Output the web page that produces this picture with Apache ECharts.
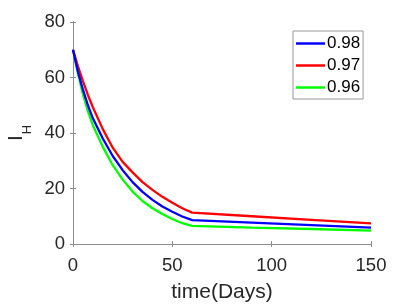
<!DOCTYPE html>
<html><head><meta charset="utf-8">
<script src="https://cdn.jsdelivr.net/npm/echarts@6/dist/echarts.min.js"></script>
<style>html,body{margin:0;padding:0;background:#fff}#c{width:396px;height:304px}</style>
</head><body><div id="c"></div>
<script>
const days = [0,2.5,5,7.5,10,15,20,25,30,35,40,45,50,55,60,90,120,150];
const s098 = [70,62.1,55.6,50.0,45.3,38.0,31.7,26.6,22.3,18.8,15.9,13.5,11.6,9.9,8.6,7.7,6.8,5.9];
const s097 = [70,64.0,58.7,53.7,49.3,41.4,34.7,29.6,25.8,22.3,19.5,17.0,14.9,12.9,11.3,10.0,8.7,7.4];
const s096 = [70,61.3,54.0,47.9,42.8,35.0,28.4,23.2,18.9,15.5,12.9,10.8,9.0,7.5,6.5,5.9,5.4,4.8];
const seriesNames = ['0.98','0.97','0.96'];
const colors = ['#0000ff','#ff0000','#00ff00'];

const chart = echarts.init(document.getElementById('c'), null, {renderer:'canvas'});
const axisColor = '#8c8c8c';
const txt = '#262626';
const font = 'Liberation Sans, Arial, Helvetica, sans-serif';
function mk(vals){ return days.map((d,i)=>[d, vals[i]]); }
const data = [s098, s097, s096];
chart.setOption({
  animation:false,
  grid:{left:73, right:25, top:22, bottom:60, containLabel:false, outerBoundsMode:'none'},
  legend:{
    left:293, top:31, orient:'vertical',
    data: seriesNames.map(n=>({name:n, icon:'rect'})),
    backgroundColor:'#fff', borderColor:'#999', borderWidth:1,
    padding:[4,3,3,3], itemGap:5, itemWidth:29, itemHeight:2.5,
    textStyle:{fontFamily:font, fontSize:17, color:'#000', padding:[0,0,0,-3]}
  },
  xAxis:[{
    type:'value', min:0, max:150, interval:50,
    name:'time(Days)', nameLocation:'middle', nameGap:38,
    nameTextStyle:{fontFamily:font, fontSize:21, color:txt},
    axisLine:{show:true, lineStyle:{color:axisColor}},
    axisTick:{inside:true, length:3, lineStyle:{color:axisColor}},
    axisLabel:{fontFamily:font, fontSize:18.5, color:txt, margin:12},
    splitLine:{show:false}
  },{
    type:'value', min:0, max:150, interval:50, position:'top',
    axisLine:{show:true, lineStyle:{color:axisColor}},
    axisTick:{inside:true, length:3, lineStyle:{color:axisColor}},
    axisLabel:{show:false}, splitLine:{show:false}
  }],
  yAxis:[{
    type:'value', min:0, max:80, interval:20,
    name:'{a|I}{b|H}', nameLocation:'middle', nameGap:32,
    nameTextStyle:{fontFamily:font, color:txt,
      rich:{a:{fontFamily:font, fontSize:21, lineHeight:24, color:txt},
            b:{fontFamily:font, fontSize:13, color:txt, verticalAlign:'bottom', padding:[0,0,-5,1]}}},
    axisLine:{show:true, lineStyle:{color:axisColor}},
    axisTick:{inside:true, length:3, lineStyle:{color:axisColor}},
    axisLabel:{fontFamily:font, fontSize:18.5, color:txt, margin:8},
    splitLine:{show:false}
  },{
    type:'value', min:0, max:80, interval:20, position:'right',
    axisLine:{show:true, lineStyle:{color:axisColor}},
    axisTick:{inside:true, length:3, lineStyle:{color:axisColor}},
    axisLabel:{show:false}, splitLine:{show:false}
  }],
  series: seriesNames.map((n,i)=>({
    name:n, type:'line', data:mk(data[i]), symbol:'none', showSymbol:false,
    lineStyle:{color:colors[i], width:2.3}, itemStyle:{color:colors[i]}, z: 3-i
  }))
});
</script></body></html>
